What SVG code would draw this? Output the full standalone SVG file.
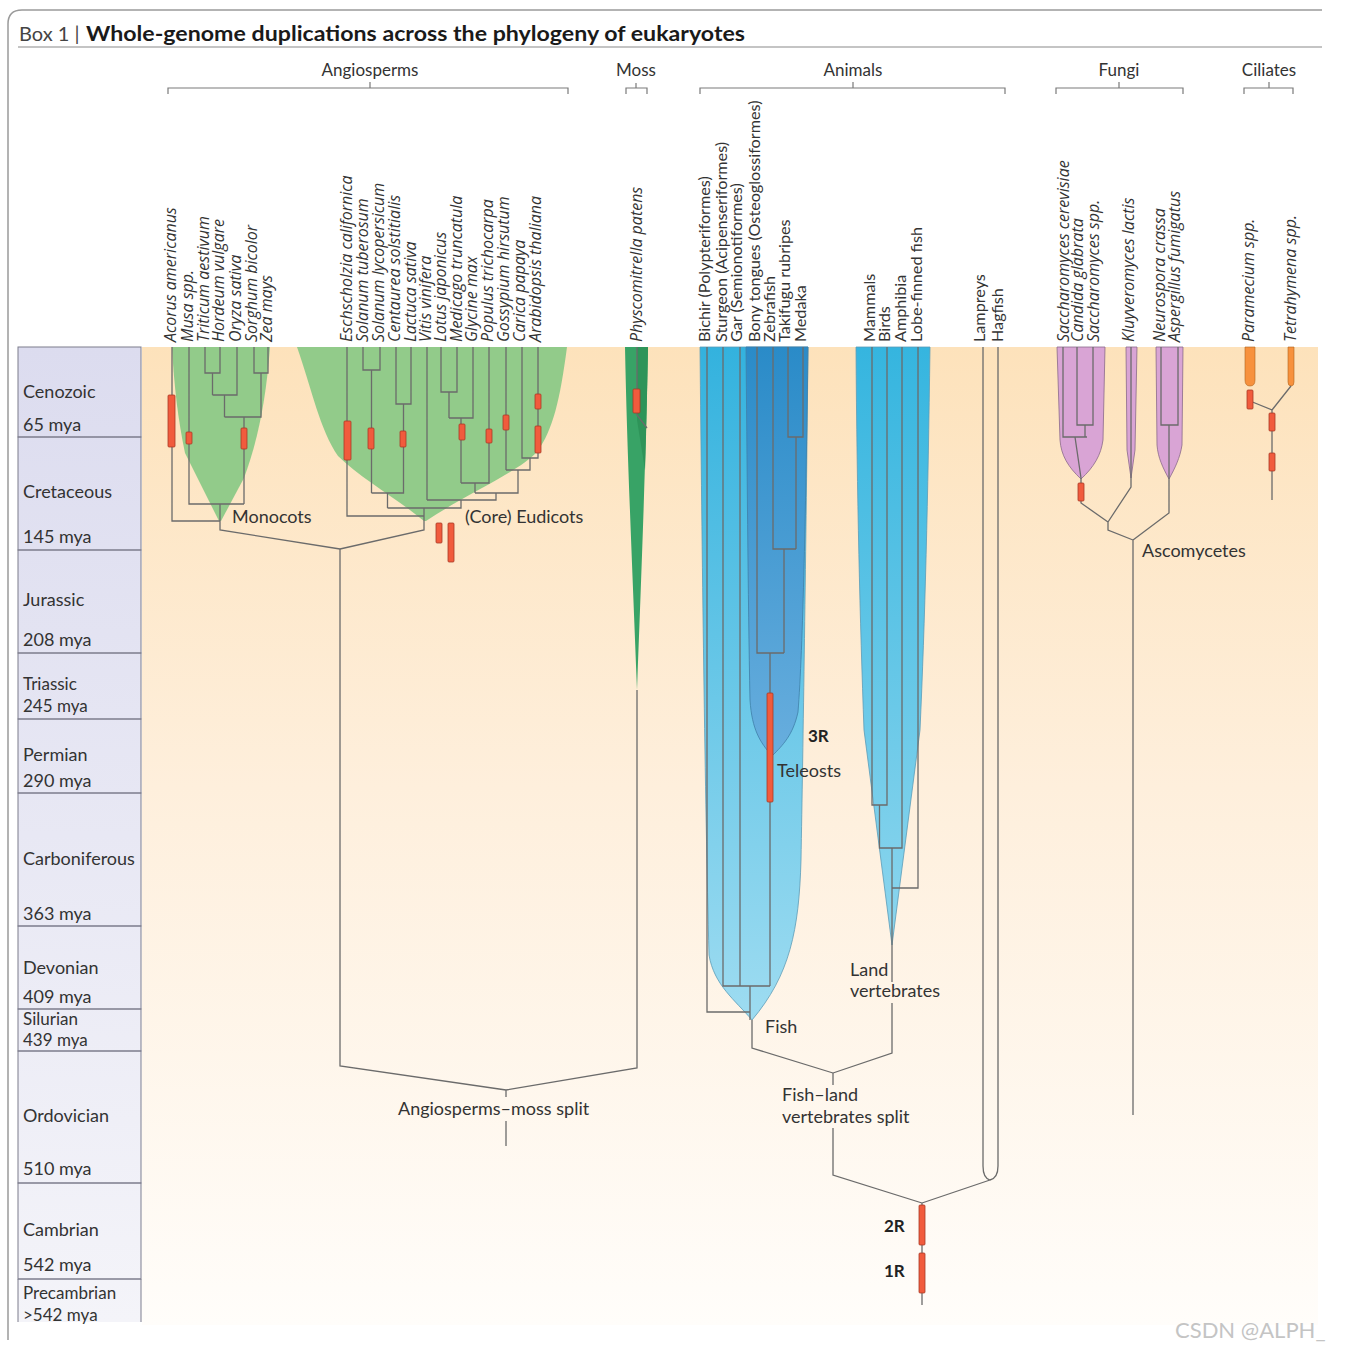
<svg xmlns="http://www.w3.org/2000/svg" width="1352" height="1352" viewBox="0 0 1352 1352">
<defs>
<style>
text{font-family:Lato,"Open Sans","Liberation Sans",sans-serif;fill:#333}
.ln{fill:none;stroke:#6b6b6b;stroke-width:1.3}
.br{fill:none;stroke:#7a7a7a;stroke-width:1.2}
.wgd{fill:#f15b3d;stroke:#a83a26;stroke-width:0.8}
.sp text{font-family:"Open Sans",Lato,sans-serif;font-size:16px;font-style:italic}
.an{font-size:16.2px}
.grp{font-size:17px;text-anchor:middle}
.lab{font-size:18px}
.bold{font-size:17px;font-weight:bold;fill:#222}
.per{font-size:18px}
.per.sm{font-size:17px}
.row{fill:none;stroke:#7c7c8c;stroke-width:1}
</style>
<linearGradient id="bg" x1="0" y1="0" x2="0" y2="1">
<stop offset="0" stop-color="#fde2bb"/>
<stop offset="0.45" stop-color="#feefdc"/>
<stop offset="1" stop-color="#fffdfa"/>
</linearGradient>
<linearGradient id="lav" x1="0" y1="0" x2="0" y2="1">
<stop offset="0" stop-color="#dcdcef"/>
<stop offset="1" stop-color="#f4f4f9"/>
</linearGradient>
<linearGradient id="blue" x1="0" y1="0" x2="0" y2="1">
<stop offset="0" stop-color="#33b2de"/>
<stop offset="1" stop-color="#9edcf1"/>
</linearGradient>
<linearGradient id="dblue" x1="0" y1="0" x2="0" y2="1">
<stop offset="0" stop-color="#2a8bc8"/>
<stop offset="1" stop-color="#68aede"/>
</linearGradient>
<linearGradient id="lblue" x1="0" y1="0" x2="0" y2="1">
<stop offset="0" stop-color="#35b5df"/>
<stop offset="1" stop-color="#8dd6ee"/>
</linearGradient>
</defs>

<!-- frame -->
<g id="frame">
<path d="M8,1340 V24 Q8,10 22,10 H1322" fill="none" stroke="#9a9a9a" stroke-width="1.5"/>
<line x1="18" y1="47" x2="1322" y2="47" stroke="#8a8a8a" stroke-width="1.2"/>
<text x="19" y="41" style="font-size:20px;fill:#444">Box 1 |</text>
<text x="86" y="41" style="font-size:20px;font-weight:bold;fill:#1a1a1a" textLength="659" lengthAdjust="spacingAndGlyphs">Whole-genome duplications across the phylogeny of eukaryotes</text>
</g>

<!-- background -->
<rect x="142" y="347" width="1176" height="978" fill="url(#bg)"/>

<!-- group brackets -->
<g id="groups">
<text class="grp" x="370" y="76">Angiosperms</text>
<path class="br" d="M168,94 V88 H568 V94 M370,88 V82"/>
<text class="grp" x="636" y="76">Moss</text>
<path class="br" d="M626,94 V88 H647 V94 M636,88 V83"/>
<text class="grp" x="853" y="76">Animals</text>
<path class="br" d="M700,94 V88 H1005 V94 M853,88 V82"/>
<text class="grp" x="1119" y="76">Fungi</text>
<path class="br" d="M1056,94 V88 H1183 V94 M1119,88 V82"/>
<text class="grp" x="1269" y="76">Ciliates</text>
<path class="br" d="M1244,94 V88 H1293 V94 M1269,88 V82"/>
</g>

<!-- period column -->
<g id="periods">
<rect x="18" y="347" width="123" height="975" fill="url(#lav)"/>
<g id="p-cenozoic"><rect class="row" x="18" y="347" width="123" height="90"/><text class="per" x="23" y="398">Cenozoic</text><text class="per" x="23" y="431">65 mya</text></g>
<g id="p-cretaceous"><rect class="row" x="18" y="437" width="123" height="113"/><text class="per" x="23" y="498">Cretaceous</text><text class="per" x="23" y="543">145 mya</text></g>
<g id="p-jurassic"><rect class="row" x="18" y="550" width="123" height="103"/><text class="per" x="23" y="606">Jurassic</text><text class="per" x="23" y="646">208 mya</text></g>
<g id="p-triassic"><rect class="row" x="18" y="653" width="123" height="66"/><text class="per sm" x="23" y="690">Triassic</text><text class="per sm" x="23" y="712">245 mya</text></g>
<g id="p-permian"><rect class="row" x="18" y="719" width="123" height="74"/><text class="per" x="23" y="761">Permian</text><text class="per" x="23" y="787">290 mya</text></g>
<g id="p-carboniferous"><rect class="row" x="18" y="793" width="123" height="133"/><text class="per" x="23" y="865">Carboniferous</text><text class="per" x="23" y="920">363 mya</text></g>
<g id="p-devonian"><rect class="row" x="18" y="926" width="123" height="83"/><text class="per" x="23" y="974">Devonian</text><text class="per" x="23" y="1003">409 mya</text></g>
<g id="p-silurian"><rect class="row" x="18" y="1009" width="123" height="42"/><text class="per sm" x="23" y="1025">Silurian</text><text class="per sm" x="23" y="1046">439 mya</text></g>
<g id="p-ordovician"><rect class="row" x="18" y="1051" width="123" height="132"/><text class="per" x="23" y="1122">Ordovician</text><text class="per" x="23" y="1175">510 mya</text></g>
<g id="p-cambrian"><rect class="row" x="18" y="1183" width="123" height="96"/><text class="per" x="23" y="1236">Cambrian</text><text class="per" x="23" y="1271">542 mya</text></g>
<g id="p-precambrian"><path class="row" d="M18,1322 V1279 H141 V1322"/><text class="per sm" x="23" y="1299">Precambrian</text><text class="per sm" x="23" y="1321">&gt;542  mya</text></g>
</g>

<!-- species labels -->
<g id="species-labels">
<g class="sp">
<text transform="translate(176,342) rotate(-90)">Acorus americanus</text>
<text transform="translate(193,342) rotate(-90)">Musa spp.</text>
<text transform="translate(209,342) rotate(-90)">Triticum aestivum</text>
<text transform="translate(224,342) rotate(-90)">Hordeum vulgare</text>
<text transform="translate(241,342) rotate(-90)">Oryza sativa</text>
<text transform="translate(257,342) rotate(-90)">Sorghum bicolor</text>
<text transform="translate(272,342) rotate(-90)">Zea mays</text>
<text transform="translate(352,342) rotate(-90)">Eschscholzia californica</text>
<text transform="translate(368,342) rotate(-90)">Solanum tuberosum</text>
<text transform="translate(384,342) rotate(-90)">Solanum lycopersicum</text>
<text transform="translate(400,342) rotate(-90)">Centaurea solstitialis</text>
<text transform="translate(416,342) rotate(-90)">Lactuca sativa</text>
<text transform="translate(431,342) rotate(-90)">Vitis vinifera</text>
<text transform="translate(446,342) rotate(-90)">Lotus japonicus</text>
<text transform="translate(462,342) rotate(-90)">Medicago truncatula</text>
<text transform="translate(477,342) rotate(-90)">Glycine max</text>
<text transform="translate(493,342) rotate(-90)">Populus trichocarpa</text>
<text transform="translate(509,342) rotate(-90)">Gossypium hirsutum</text>
<text transform="translate(525,342) rotate(-90)">Carica papaya</text>
<text transform="translate(541,342) rotate(-90)">Arabidopsis thaliana</text>
<text transform="translate(642,342) rotate(-90)">Physcomitrella patens</text>
<text transform="translate(1069,342) rotate(-90)">Saccharomyces cerevisiae</text>
<text transform="translate(1083,342) rotate(-90)">Candida glabrata</text>
<text transform="translate(1099,342) rotate(-90)">Saccharomyces spp.</text>
<text transform="translate(1134,342) rotate(-90)">Kluyveromyces lactis</text>
<text transform="translate(1165,342) rotate(-90)">Neurospora crassa</text>
<text transform="translate(1180,342) rotate(-90)">Aspergillus fumigatus</text>
<text transform="translate(1254,342) rotate(-90)">Paramecium spp.</text>
<text transform="translate(1296,342) rotate(-90)">Tetrahymena spp.</text>
</g>
<g class="an">
<text transform="translate(710,342) rotate(-90)">Bichir (Polypteriformes)</text>
<text transform="translate(727,342) rotate(-90)">Sturgeon (Acipenseriformes)</text>
<text transform="translate(742,342) rotate(-90)">Gar (Semionotiformes)</text>
<text transform="translate(760,342) rotate(-90)">Bony tongues (Osteoglossiformes)</text>
<text transform="translate(775,342) rotate(-90)">Zebrafish</text>
<text transform="translate(790,342) rotate(-90)">Takifugu rubripes</text>
<text transform="translate(806,342) rotate(-90)">Medaka</text>
<text transform="translate(875,342) rotate(-90)">Mammals</text>
<text transform="translate(890,342) rotate(-90)">Birds</text>
<text transform="translate(906,342) rotate(-90)">Amphibia</text>
<text transform="translate(922,342) rotate(-90)">Lobe-finned fish</text>
<text transform="translate(985,342) rotate(-90)">Lampreys</text>
<text transform="translate(1003,342) rotate(-90)">Hagfish</text>
</g>
</g>

<!-- clade shapes -->
<g id="monocots"><path d="M172,347 L270,347 C266,400 258,440 244,478 L221,521 L219,521 L185,453 C178,420 174,385 172,347 Z" fill="#8cc987" fill-opacity="0.95"/></g>
<g id="eudicots"><path d="M297,347 L567,347 C560,400 553,430 537,452 C518,472 470,492 426,521 L424,521 C395,497 360,478 338,456 C320,430 312,390 297,347 Z" fill="#8cc987" fill-opacity="0.95"/></g>
<g id="moss"><path d="M625,347 L648,347 C646,450 642,560 637,690 C632,560 627,450 625,347 Z" fill="#38a366"/><path d="M637,347 L648,347 C647,400 646,440 645,470 L637,420 Z" fill="#2e9459"/></g>
<g id="fish"><path d="M700,347 L808,347 C806,550 803,750 801,860 C799,930 790,975 752,1020 C735,1000 714,985 709,955 C705,800 702,550 700,347 Z" fill="url(#blue)" stroke="#5a9cb8" stroke-width="0.8"/></g>
<g id="teleosts"><path d="M746,347 L808,347 C806,500 803,650 798,712 C793,735 783,745 772,756 C760,742 752,730 750,700 C748,600 747,450 746,347 Z" fill="url(#dblue)" stroke="#3f7fa8" stroke-width="0.8"/></g>
<g id="land-vertebrates"><path d="M856,347 L930,347 C928,500 925,620 920,730 L892,945 L864,730 C860,620 857,500 856,347 Z" fill="url(#lblue)" stroke="#5a9cb8" stroke-width="0.8"/></g>
<g id="saccharomyces"><path d="M1057,347 L1105,347 L1103,440 C1101,455 1094,467 1081,479 C1068,467 1061,455 1060,440 Z" fill="#d9a4d5" stroke="#8a6a8a" stroke-width="0.8"/></g>
<g id="kluyveromyces"><path d="M1126,347 L1137,347 L1135,450 L1131,478 L1127,450 Z" fill="#d9a4d5" stroke="#8a6a8a" stroke-width="0.8"/></g>
<g id="neurospora"><path d="M1156,347 L1183,347 L1182,445 C1180,458 1175,468 1169,479 C1163,468 1158,458 1157,445 Z" fill="#d9a4d5" stroke="#8a6a8a" stroke-width="0.8"/></g>
<g id="paramecium"><path d="M1245,347 H1255 V380 Q1255,386 1250,386 Q1245,386 1245,380 Z" fill="#f7913d" stroke="#b0651f" stroke-width="0.6"/></g>
<g id="tetrahymena"><path d="M1288,347 H1294 V382 Q1294,386 1291,386 Q1288,386 1288,382 Z" fill="#f7913d" stroke="#b0651f" stroke-width="0.6"/></g>

<!-- connectors -->
<g id="connectors" class="ln">
<!-- monocots -->
<path d="M172,347 V521 H220 M189,347 V504 H244 M205,347 V373 H220 V347 M212.5,373 V395 M237,347 V395 H212.5 M224.5,395 V417 M254,347 V373 H268 V347 M261,373 V417 H224.5 M244,417 V504 M220,504 V530 L340,549"/>
<!-- eudicots -->
<path d="M347,347 V516 H424 M363,347 V370 H380 V347 M371.5,370 V493 M396,347 V404 H411 V347 M403.5,404 V493 H371.5 M387.5,493 V508 M427,347 V500 M441,347 V392 H457 V347 M449,392 V418 M473,347 V418 H449 M461,418 V483 M489,347 V483 H461 M475,483 V493 M506,347 V470 M522,347 V458 H538 V347 M530,458 V470 H506 M518,470 V493 H475 M496,493 V500 H427 M461,500 V508 H387.5 M424,508 V530 L340,549"/>
<!-- angiosperm / moss -->
<path d="M637,347 V415 L647,428 M340,549 V1066 L506,1090 M637,690 V1068 L506,1090 M506,1090 V1097 M506,1121 V1146"/>
<!-- fish -->
<path d="M707,347 V1012 H750 M723,347 V986 H770 M740,347 V986 M750,986 V1020 M757,347 V653 H784 M773,347 V549 H796 M788,347 V437 H803 V347 M796,437 V549 M784,549 V653 M770,653 V986 M752,1020 V1048 L833,1073"/>
<!-- land vertebrates -->
<path d="M872,347 V805 H887 V347 M879.5,805 V848 H902 V347 M892,848 V888 H918 V347 M892,888 V982 M892,1003 V1053 L833,1073"/>
<path d="M833,1073 V1085 M833,1128 V1175 L922,1203"/>
<!-- lampreys / hagfish -->
<path d="M983,347 V1166 Q983,1178 990,1180 Q998,1178 998,1166 V347 M990,1180 L922,1203 M922,1203 V1305"/>
<!-- fungi -->
<path d="M1063,347 V437 H1087 M1077,347 V425 H1093 V347 M1085,425 V437 M1075,437 L1081,478 V503 L1108,522 M1131,347 V487 L1108,522 M1108,522 V530 L1133,540 M1161,347 V425 H1178 V347 M1169,425 V513 L1133,540 M1133,540 V1115"/>
<!-- ciliates -->
<path d="M1250,401 L1272,410 M1291,386 L1272,410 M1272,410 V500"/>
</g>

<!-- WGD events -->
<g id="wgd-events">
<rect class="wgd" x="168" y="395" width="7" height="52" rx="1"/>
<rect class="wgd" x="186" y="432" width="6" height="12" rx="1"/>
<rect class="wgd" x="241" y="428" width="6" height="21" rx="1"/>
<rect class="wgd" x="344" y="421" width="7" height="39" rx="1"/>
<rect class="wgd" x="368" y="428" width="6" height="21" rx="1"/>
<rect class="wgd" x="400" y="431" width="6" height="16" rx="1"/>
<rect class="wgd" x="459" y="424" width="6" height="16" rx="1"/>
<rect class="wgd" x="486" y="429" width="6" height="14" rx="1"/>
<rect class="wgd" x="503" y="415" width="6" height="15" rx="1"/>
<rect class="wgd" x="535" y="394" width="6" height="15" rx="1"/>
<rect class="wgd" x="535" y="426" width="6" height="27" rx="1"/>
<rect class="wgd" x="436" y="523" width="6" height="20" rx="1"/>
<rect class="wgd" x="448" y="523" width="6" height="39" rx="1"/>
<rect class="wgd" x="633" y="389" width="7" height="24" rx="1"/>
<rect class="wgd" x="767" y="693" width="6" height="109" rx="1"/>
<rect class="wgd" x="919" y="1205" width="6" height="40" rx="1"/>
<rect class="wgd" x="919" y="1253" width="6" height="40" rx="1"/>
<rect class="wgd" x="1078" y="483" width="6" height="18" rx="1"/>
<rect class="wgd" x="1247" y="390" width="6" height="19" rx="1"/>
<rect class="wgd" x="1269" y="413" width="6" height="18" rx="1"/>
<rect class="wgd" x="1269" y="453" width="6" height="18" rx="1"/>
</g>

<!-- clade labels -->
<g id="clade-labels">
<text class="lab" x="232" y="523">Monocots</text>
<text class="lab" x="465" y="523">(Core) Eudicots</text>
<text class="bold" x="808" y="742">3R</text>
<text class="lab" x="777" y="777">Teleosts</text>
<text class="lab" x="765" y="1033">Fish</text>
<text class="lab" x="850" y="976">Land</text>
<text class="lab" x="850" y="997">vertebrates</text>
<text class="lab" x="782" y="1101">Fish–land</text>
<text class="lab" x="782" y="1123">vertebrates split</text>
<text class="lab" x="398" y="1115">Angiosperms–moss split</text>
<text class="bold" x="884" y="1232">2R</text>
<text class="bold" x="884" y="1277">1R</text>
<text class="lab" x="1142" y="557">Ascomycetes</text>
</g>

<text x="1175" y="1338" style="font-size:22px;fill:#c4c4c4">CSDN @ALPH_</text>
</svg>
